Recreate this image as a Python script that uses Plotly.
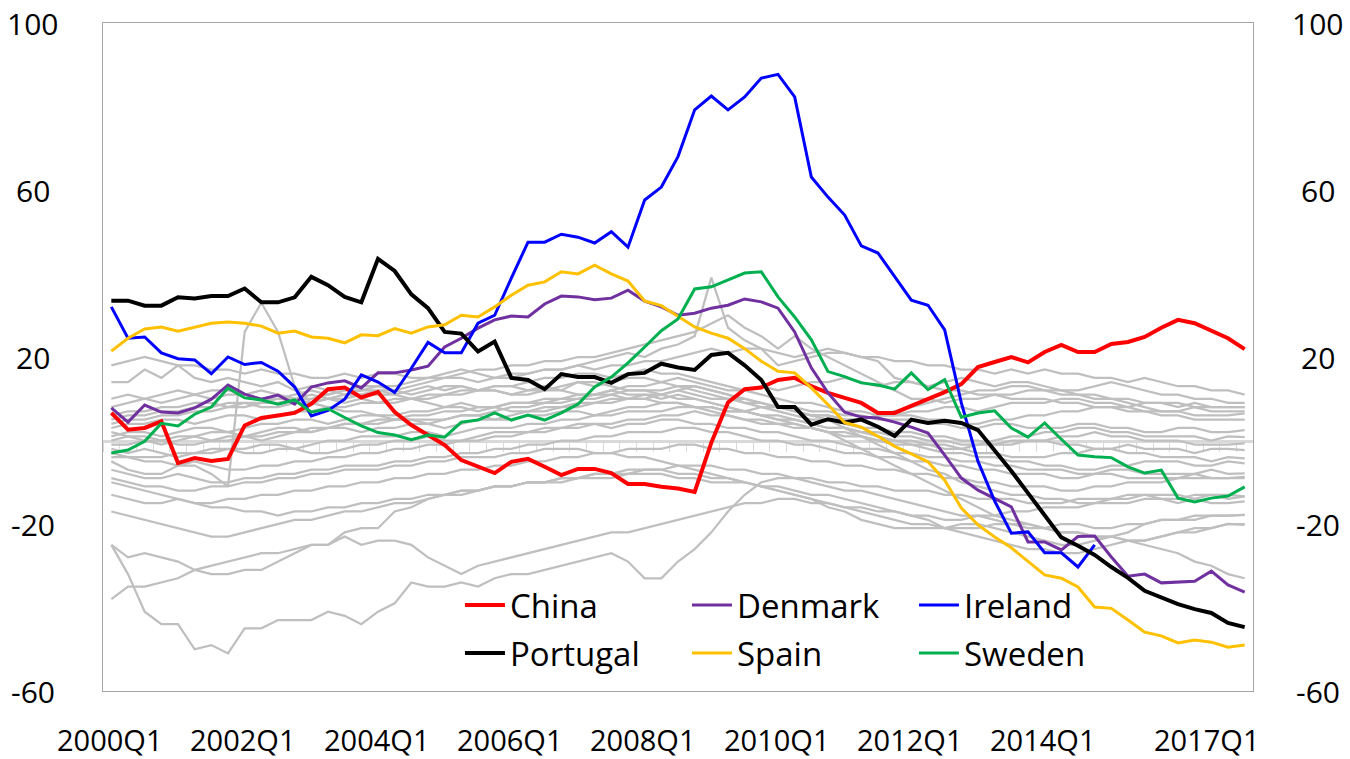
import plotly.graph_objects as go

# Quarterly categories, 2000Q1 .. 2017Q1
QUARTERS = [f"{y}Q{q}" for y in range(2000, 2018) for q in range(1, 5)][:69]
X_TICK_LABELS = ["2000Q1", "2002Q1", "2004Q1", "2006Q1", "2008Q1",
                 "2010Q1", "2012Q1", "2014Q1", "2017Q1"]
Y_TICKS = [100, 60, 20, -20, -60]

# Highlighted economies
china = [6.6, 2.6, 3.0, 4.6, -5.4, -4.2, -4.9, -4.4, 3.6, 5.4, 6.0, 6.6, 8.8, 12.3, 12.7, 10.3,
         11.6, 6.8, 3.7, 1.3, -1.1, -4.7, -6.3, -7.8, -5.1, -4.4, -6.3, -8.3, -6.8, -6.8, -7.8, -10.4,
         -10.4, -11.1, -11.5, -12.3, -0.5, 9.1, 12.3, 12.7, 14.5, 15.0, 13.0, 11.4, 10.2, 9.0, 6.6, 6.6,
         8.3, 9.9, 11.6, 13.5, 17.6, 18.8, 20.0, 18.7, 21.2, 22.9, 21.2, 21.2, 23.1, 23.6, 24.8, 27.0,
         28.9, 28.1, 26.2, 24.5, 21.9]
denmark = [7.8, 4.4, 8.5, 6.8, 6.6, 7.8, 9.9, 13.3, 11.1, 9.9, 10.9, 8.7, 12.8, 13.8, 14.3, 12.6,
           16.2, 16.2, 16.9, 17.8, 22.4, 24.5, 26.9, 28.9, 29.8, 29.6, 32.7, 34.6, 34.4, 33.7, 34.1, 36.0,
           33.4, 32.0, 30.0, 30.5, 31.7, 32.4, 33.9, 33.2, 31.7, 26.0, 17.4, 11.4, 6.8, 5.6, 5.4, 4.4,
           3.2, 1.8, -3.5, -9.0, -11.9, -13.8, -15.9, -24.3, -24.3, -26.2, -23.0, -22.9, -27.9, -32.5, -32.0, -34.1,
           -33.9, -33.7, -31.3, -34.6, -36.3]
ireland = [32.0, 24.5, 24.8, 21.0, 19.6, 19.3, 16.0, 20.0, 18.2, 18.7, 16.6, 12.8, 5.9, 7.2, 9.9, 15.7,
           14.0, 11.5, 17.3, 23.5, 21.0, 21.0, 28.1, 30.0, 38.9, 47.5, 47.5, 49.4, 48.7, 47.3, 50.0, 46.3,
           57.6, 60.7, 68.0, 79.2, 82.5, 79.2, 82.3, 86.8, 87.7, 82.3, 63.1, 58.3, 54.0, 46.6, 44.9, 39.4,
           33.6, 32.4, 26.5, 9.0, -5.0, -14.5, -22.2, -21.9, -26.9, -26.9, -30.3, -25.0]
portugal = [33.5, 33.5, 32.3, 32.3, 34.3, 34.0, 34.6, 34.6, 36.4, 33.1, 33.1, 34.3, 39.2, 37.2, 34.4, 33.1,
            43.5, 40.6, 35.0, 31.7, 26.0, 25.6, 21.3, 23.7, 15.0, 14.5, 12.3, 15.9, 15.2, 15.2, 13.8, 15.9,
            16.2, 18.4, 17.5, 16.9, 20.5, 21.0, 18.0, 14.5, 8.0, 8.0, 3.8, 5.1, 4.3, 5.0, 3.3, 1.1,
            5.0, 4.2, 4.7, 4.2, 2.5, -2.3, -7.3, -12.6, -17.8, -23.2, -25.2, -27.4, -30.3, -32.9, -36.0, -37.5,
            -39.2, -40.4, -41.3, -43.7, -44.7]
spain = [21.4, 24.5, 26.7, 27.2, 26.2, 27.2, 28.1, 28.4, 28.1, 27.4, 25.7, 26.2, 24.8, 24.5, 23.4, 25.3,
         25.1, 26.8, 25.7, 27.2, 27.7, 30.0, 29.6, 32.0, 34.8, 37.2, 38.0, 40.4, 39.9, 42.0, 39.9, 38.2,
         33.4, 32.3, 29.7, 27.2, 25.7, 24.5, 22.0, 19.0, 16.6, 16.2, 12.6, 8.6, 4.3, 3.2, 1.0, -1.4,
         -3.2, -5.1, -9.5, -16.2, -20.2, -23.1, -25.7, -29.0, -32.2, -33.0, -35.1, -39.9, -40.2, -43.0, -45.9, -46.8,
         -48.5, -47.8, -48.3, -49.5, -49.0]
sweden = [-3.0, -2.3, -0.2, 4.1, 3.5, 6.3, 8.0, 12.6, 10.2, 9.7, 8.7, 9.7, 6.8, 7.6, 5.5, 3.5,
          1.9, 1.3, 0.2, 1.3, 0.8, 4.4, 4.9, 6.6, 4.9, 6.1, 4.9, 6.6, 8.7, 12.8, 15.2, 18.6,
          22.4, 26.3, 29.1, 36.3, 36.8, 38.4, 40.1, 40.4, 34.4, 29.6, 24.1, 16.5, 15.3, 13.8, 13.3, 12.3,
          16.2, 12.2, 14.6, 5.6, 6.6, 7.1, 3.0, 0.8, 4.2, 0.3, -3.5, -3.9, -4.1, -6.3, -7.8, -7.1,
          -13.8, -14.7, -13.8, -13.3, -11.1]

# Remaining economies (drawn in grey)
other_01 = [18, 19, 20, 19, 18, 18, 17, 17, 16, 17, 16, 16, 15, 15, 16, 15, 16, 16, 15, 15, 16, 17, 16, 15,
            15, 16, 17, 17, 18, 17, 18, 18, 19, 19, 20, 21, 22, 21, 22, 22, 21, 20, 21, 22, 21, 20, 20, 19,
            19, 18, 18, 17, 17, 16, 17, 16, 17, 16, 16, 15, 15, 14, 15, 14, 13, 13, 12, 12, 11]
other_02 = [14, 14, 17, 15, 18, 15, 14, 15, 14, 13, 14, 12, 13, 12, 11, 12, 12, 11, 12, 13, 12, 13, 12, 12,
            11, 12, 13, 12, 14, 13, 14, 15, 15, 14, 15, 14, 13, 12, 12, 13, 12, 13, 14, 14, 15, 14, 13, 14,
            14, 13, 14, 15, 14, 13, 14, 14, 13, 12, 12, 13, 14, 13, 12, 11, 11, 10, 10, 9, 9]
other_03 = [-5, -7, -8, -8, -6, -6, -8, -11, 26, 33, 26, 13, 9, 8, 7, 7, 6, 5, 5, 5, 5, 6, 6, 7,
            8, 8, 9, 9, 10, 10, 11, 10, 10, 9, 9, 8, 8, 7, 7, 8, 8, 7, 6, 6, 5, 5, 6, 6,
            7, 7, 8, 8, 7, 8, 9, 9, 9, 10, 10, 9, 9, 8, 9, 9, 8, 9, 8, 8, 8]
other_04 = [8, 9, 10, 9, 10, 11, 10, 11, 11, 10, 10, 11, 12, 11, 12, 13, 13, 12, 13, 14, 15, 15, 14, 15,
            16, 16, 17, 17, 18, 19, 20, 21, 20, 22, 23, 25, 39, 27, 24, 22, 18, 19, 20, 21, 21, 20, 19, 15,
            14, 13, 12, 12, 11, 11, 10, 10, 10, 9, 9, 8, 8, 8, 7, 7, 7, 8, 7, 7, 7]
other_05 = [4, 5, 5, 6, 6, 7, 7, 8, 8, 9, 9, 10, 10, 11, 12, 12, 13, 13, 14, 15, 15, 16, 17, 17,
            18, 18, 19, 19, 20, 20, 21, 22, 23, 24, 25, 26, 28, 30, 27, 25, 22, 25, 22, 20, 18, 16, 14, 12,
            10, 10, 9, 10, 10, 11, 11, 12, 12, 11, 11, 10, 10, 9, 8, 7, 7, 6, 6, 6, 6.5]
other_06 = [3, 4, 4, 5, 5, 4, 5, 6, 6, 5, 6, 7, 7, 8, 8, 9, 9, 10, 10, 11, 11, 12, 12, 13,
            13, 12, 12, 13, 14, 14, 13, 12, 12, 11, 12, 11, 10, 10, 9, 9, 8, 8, 7, 7, 6, 6, 5, 5,
            5, 4, 4, 3, 3, 4, 4, 3, 3, 3, 4, 4, 3, 3, 2, 2, 3, 3, 2, 2, 2.5]
other_07 = [1, 2, 2, 1, 2, 3, 3, 2, 3, 4, 4, 5, 5, 4, 5, 6, 6, 6, 7, 7, 8, 8, 7, 8,
            9, 9, 10, 10, 11, 11, 12, 11, 11, 10, 11, 10, 9, 8, 7, 6, 5, 5, 4, 3, 3, 2, 2, 1,
            1, 0, 0, -1, -1, 0, 1, 1, 2, 2, 3, 3, 2, 2, 1, 1, 1, 1, 0, 1, 0.8]
other_08 = [0, 1, 1, 0, 1, 1, 2, 2, 1, 2, 3, 3, 2, 3, 4, 4, 4, 5, 5, 4, 5, 6, 6, 5,
            6, 7, 7, 8, 8, 9, 9, 10, 10, 11, 12, 13, 12, 11, 9, 8, 7, 6, 5, 5, 4, 3, 3, 2,
            2, 1, 1, 0, 0, -1, -1, 0, 0, 1, 1, 2, 1, 1, 0, 0, 0, -1, -1, -1, -0.7]
other_09 = [-1, -1, 0, -1, 0, 1, 0, 1, 1, 0, 1, 2, 2, 3, 3, 2, 3, 3, 4, 4, 3, 4, 5, 5,
            5, 6, 6, 7, 7, 6, 7, 8, 8, 9, 9, 8, 7, 6, 5, 4, 4, 3, 3, 2, 1, 1, 0, 0,
            -1, -1, -2, -2, -1, -1, 0, 0, 0, -1, -1, -2, -2, -1, -2, -2, -2, -3, -2, -2, -2.3]
other_10 = [-2, -3, -2, -3, -4, -3, -3, -2, -2, -1, -1, -2, -1, 0, 0, 1, 1, 1, 2, 2, 1, 2, 3, 3,
            3, 4, 4, 5, 5, 6, 6, 7, 7, 7, 8, 8, 8, 7, 7, 6, 6, 5, 4, 3, 3, 2, 1, 0,
            0, -1, -1, -2, -3, -3, -4, -4, -4, -3, -3, -2, -2, -3, -3, -4, -4, -4, -5, -4, -4.3]
other_11 = [-4, -4, -5, -5, -6, -5, -6, -7, -7, -6, -6, -5, -5, -4, -4, -3, -3, -2, -2, -1, -1, 0, 0, 1,
            1, 2, 2, 3, 3, 4, 4, 5, 5, 6, 6, 7, 6, 6, 5, 5, 4, 4, 3, 2, 2, 1, 0, -1,
            -1, -2, -3, -3, -4, -4, -5, -5, -6, -6, -7, -7, -6, -6, -5, -5, -5, -6, -6, -5, -5.5]
other_12 = [-3, -4, -4, -4, -3, -3, -2, -2, -3, -3, -2, -2, -3, -3, -2, -1, -1, 0, 0, 1, 0, 0, 1, 2,
            2, 2, 3, 3, 4, 4, 3, 4, 4, 5, 5, 4, 4, 3, 3, 2, 2, 1, 0, 0, -1, -2, -2, -3,
            -3, -4, -4, -5, -5, -6, -6, -7, -7, -7, -8, -8, -7, -7, -8, -8, -8, -8, -7, -8, -7.9]
other_13 = [-7, -8, -9, -9, -8, -9, -10, -10, -9, -9, -8, -8, -7, -7, -6, -6, -6, -5, -5, -4, -4, -3, -3, -2,
            -2, -1, -1, 0, 0, 1, 1, 2, 2, 2, 3, 3, 2, 2, 1, 0, 0, -1, -1, -2, -3, -3, -4, -4,
            -5, -5, -6, -6, -7, -7, -8, -8, -8, -9, -9, -8, -8, -9, -9, -9, -9, -8, -9, -9, -8.7]
other_14 = [-13, -14, -15, -15, -14, -15, -15, -14, -14, -13, -13, -12, -12, -11, -11, -10, -10, -9, -9, -8, -8, -7, -7, -6,
            -6, -5, -5, -4, -4, -3, -3, -2, -2, -2, -1, -1, -2, -2, -3, -3, -4, -4, -5, -5, -6, -6, -7, -7,
            -8, -8, -9, -9, -10, -10, -11, -11, -11, -12, -12, -11, -11, -10, -10, -10, -9, -9, -9, -9, -9]
other_15 = [-17, -18, -19, -20, -21, -22, -23, -23, -22, -21, -20, -19, -19, -18, -17, -17, -16, -15, -15, -14, -13, -13, -12, -11,
            -11, -10, -10, -9, -9, -8, -8, -8, -7, -7, -6, -6, -6, -7, -7, -8, -8, -9, -9, -10, -10, -11, -11, -12,
            -12, -12, -13, -13, -14, -14, -14, -15, -15, -15, -14, -14, -14, -13, -13, -14, -14, -13, -13, -14, -13.4]
other_16 = [-25, -28, -27, -28, -29, -31, -32, -32, -31, -31, -29, -27, -25, -25, -23, -25, -24, -24, -25, -28, -30, -32, -30, -29,
            -28, -27, -26, -25, -24, -23, -22, -22, -21, -20, -19, -18, -17, -16, -15, -15, -14, -14, -15, -15, -16, -16, -17, -17,
            -18, -18, -19, -19, -18, -18, -17, -17, -16, -16, -16, -15, -15, -15, -14, -14, -15, -14, -15, -15, -14.6]
other_17 = [-38, -35, -35, -34, -33, -31, -30, -29, -28, -27, -27, -26, -25, -25, -22, -21, -21, -17, -16, -14, -13, -12, -12, -11,
            -11, -10, -10, -9, -9, -8, -8, -7, -7, -7, -8, -8, -9, -9, -10, -11, -12, -13, -14, -15, -16, -17, -18, -19,
            -20, -20, -21, -21, -21, -20, -20, -21, -21, -20, -20, -21, -21, -20, -20, -19, -19, -19, -18, -18, -17.8]
other_18 = [-25, -32, -41, -44, -44, -50, -49, -51, -45, -45, -43, -43, -43, -41, -42, -44, -41, -39, -34, -35, -35, -34, -35, -33,
            -32, -32, -31, -30, -29, -28, -27, -29, -33, -33, -29, -26, -22, -17, -13, -10, -9, -9, -10, -11, -12, -12, -13, -14,
            -15, -16, -17, -18, -18, -19, -20, -20, -21, -22, -22, -23, -23, -24, -25, -26, -27, -29, -30, -32, -33]
other_19 = [10, 11, 10, 11, 12, 11, 12, 12, 11, 12, 11, 10, 11, 10, 9, 10, 9, 9, 10, 9, 8, 9, 8, 8,
            7, 7, 8, 8, 9, 9, 10, 10, 11, 11, 10, 10, 9, 8, 7, 6, 5, 4, 3, 2, 0, -2, -4, -6,
            -8, -10, -12, -14, -16, -18, -19, -20, -21, -22, -22, -23, -23, -24, -24, -23, -22, -22, -21, -20, -20.2]
other_20 = [5, 6, 6, 7, 7, 8, 8, 9, 9, 8, 8, 9, 9, 10, 10, 11, 11, 11, 10, 10, 11, 11, 12, 12,
            11, 11, 12, 12, 11, 11, 12, 13, 13, 14, 13, 12, 11, 10, 10, 9, 8, 7, 6, 5, 3, 1, -1, -3,
            -5, -7, -8, -10, -11, -12, -13, -13, -14, -14, -15, -15, -14, -14, -13, -13, -13, -14, -13, -13, -13.4]
other_21 = [6, 7, 7, 8, 8, 9, 9, 8, 9, 9, 10, 10, 9, 10, 11, 11, 12, 12, 11, 12, 13, 13, 12, 13,
            13, 14, 15, 15, 16, 16, 15, 16, 17, 16, 16, 15, 14, 13, 12, 11, 10, 9, 9, 8, 7, 7, 6, 6,
            6, 5, 5, 4, 4, 5, 5, 6, 6, 7, 7, 8, 8, 7, 7, 6, 6, 5, 5, 5, 5]
other_22 = [-9, -10, -11, -11, -12, -12, -11, -11, -10, -10, -9, -9, -8, -8, -7, -7, -7, -6, -6, -5, -5, -4, -4, -4,
            -3, -3, -2, -2, -2, -3, -3, -4, -4, -5, -6, -7, -8, -9, -10, -11, -12, -13, -14, -16, -17, -19, -20, -21,
            -21, -21, -21, -20, -20, -21, -22, -23, -24, -25, -25, -24, -23, -22, -20, -19, -19, -18, -18, -18, -17.8]
other_23 = [2, 1, 0, 0, -1, -1, 0, 0, 1, 1, 2, 2, 3, 3, 4, 4, 5, 5, 6, 6, 7, 7, 8, 8,
            9, 9, 9, 10, 10, 11, 11, 12, 12, 12, 13, 13, 12, 11, 10, 9, 8, 7, 6, 6, 5, 5, 6, 7,
            8, 9, 10, 11, 12, 12, 13, 13, 12, 12, 11, 11, 10, 10, 9, 9, 9, 8, 8, 8, 8]
other_24 = [-10, -11, -12, -13, -14, -15, -16, -16, -17, -17, -18, -17, -17, -16, -16, -15, -15, -14, -14, -13, -13, -12, -12, -11,
            -11, -10, -10, -10, -9, -9, -9, -8, -8, -8, -9, -9, -10, -10, -10, -11, -11, -12, -13, -13, -14, -15, -16, -17,
            -18, -19, -21, -22, -23, -24, -25, -26, -26, -27, -27, -26, -25, -24, -24, -23, -22, -21, -21, -20, -20]

others = [other_01, other_02, other_03, other_04, other_05, other_06, other_07, other_08,
          other_09, other_10, other_11, other_12, other_13, other_14, other_15, other_16,
          other_17, other_18, other_19, other_20, other_21, other_22, other_23, other_24]

highlighted = [
    ("China", china, "#FF0000", 4.0, "legend"),
    ("Denmark", denmark, "#7030A0", 3.0, "legend"),
    ("Ireland", ireland, "#0000FF", 3.0, "legend"),
    ("Portugal", portugal, "#000000", 4.0, "legend2"),
    ("Spain", spain, "#FFC000", 3.0, "legend2"),
    ("Sweden", sweden, "#00B050", 3.0, "legend2"),
]

FONT = "Open Sans"

fig = go.Figure()

# invisible trace so the zero-crossing axis (x2) is laid out
fig.add_trace(go.Scatter(x=[None], y=[None], xaxis="x2", yaxis="y",
                         showlegend=False, hoverinfo="skip"))

for series in others:
    fig.add_trace(go.Scatter(x=QUARTERS[:len(series)], y=series, mode="lines",
                             line=dict(color="#BFBFBF", width=2.25),
                             showlegend=False, hoverinfo="skip"))

for name, series, color, width, legend in highlighted:
    fig.add_trace(go.Scatter(x=QUARTERS[:len(series)], y=series, mode="lines", name=name,
                             line=dict(color=color, width=width), legend=legend))

annotations = []
for lab in X_TICK_LABELS:
    annotations.append(dict(x=lab, xref="x", y=-0.072, yref="paper", text=lab,
                            showarrow=False, xanchor="center", yanchor="middle",
                            xshift=-38 if lab == X_TICK_LABELS[-1] else -2,
                            font=dict(family=FONT, size=29, color="black")))
for v in Y_TICKS:
    for xp in (-0.0609, 1.0565):
        annotations.append(dict(x=xp, xref="paper", y=v, yref="y", text=str(v),
                                showarrow=False, xanchor="center", yanchor="middle",
                                font=dict(family=FONT, size=30, color="black")))

legend_common = dict(orientation="h", xanchor="left", x=0.3104, yanchor="middle",
                     bgcolor="rgba(0,0,0,0)", borderwidth=0,
                     entrywidth=172, entrywidthmode="pixels", itemwidth=40,
                     font=dict(family=FONT, size=33, color="black"))

fig.update_layout(
    width=1350, height=759,
    margin=dict(l=103, r=97, t=23, b=68),
    paper_bgcolor="white", plot_bgcolor="white",
    font=dict(family=FONT, size=30, color="black"),
    xaxis=dict(type="category", range=[-0.5, 68.5], showline=True, mirror=True,
               linecolor="#A6A6A6", linewidth=1, showgrid=False, zeroline=False,
               showticklabels=False, ticks=""),
    xaxis2=dict(overlaying="x", anchor="free", position=0.375, range=[-0.5, 68.5],
                showline=True, linecolor="#D9D9D9", linewidth=3,
                ticks="outside", ticklen=9, tickcolor="#D9D9D9", tickwidth=1,
                tickmode="linear", tick0=-0.5, dtick=1, showticklabels=False,
                showgrid=False, zeroline=False, layer="below traces"),
    yaxis=dict(range=[-60, 100], showline=True, mirror=True, linecolor="#A6A6A6",
               linewidth=1, showgrid=False, zeroline=False, showticklabels=False, ticks=""),
    legend=dict(y=0.1287, **legend_common),
    legend2=dict(y=0.0569, **legend_common),
    annotations=annotations,
)

fig.write_html("out.html")
